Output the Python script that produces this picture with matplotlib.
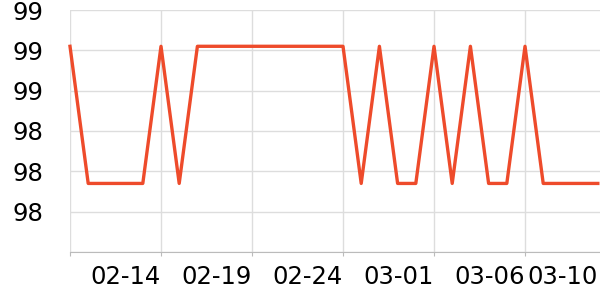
import numpy as np
import matplotlib.pyplot as plt

dates = ['02-09', '02-10', '02-11', '02-12', '02-13', '02-14', '02-15', '02-16',
         '02-17', '02-18', '02-19', '02-20', '02-21', '02-22', '02-23', '02-24',
         '02-25', '02-26', '02-27', '02-28', '03-01', '03-02', '03-03', '03-04',
         '03-05', '03-06', '03-07', '03-08', '03-09', '03-10']
values = [99.11, 98.77, 98.77, 98.77, 98.77, 99.11, 98.77, 99.11,
          99.11, 99.11, 99.11, 99.11, 99.11, 99.11, 99.11, 99.11,
          98.77, 99.11, 98.77, 98.77, 99.11, 98.77, 99.11, 98.77,
          98.77, 99.11, 98.77, 98.77, 98.77, 98.77]
y_ticks = [98.6, 98.7, 98.8, 98.9, 99.0, 99.1, 99.2]
y_labels = ['', '98', '98', '98', '99', '99', '99']

font = 17.5
plt.rcParams.update({'font.size': font, 'font.family': 'DejaVu Sans'})

fig = plt.figure(figsize=(6, 3), dpi=100)
ax = fig.add_axes([70/600, 48/300, 530/600, 242/300])

x = np.arange(len(dates))
ax.plot(x, values, color='#ee4b2b', lw=2.4, clip_on=False, zorder=3)

ax.set_xlim(0, 29.12)
ax.set_ylim(98.6, 99.2)

major = list(range(0, len(dates) - 1, 5))
ax.set_xticks(major, [''] + [dates[i] for i in major[1:]])
ax.set_xticks([len(dates) - 1], [dates[-1]], minor=True)
for t in ax.get_xticklabels() + ax.get_xticklabels(minor=True):
    t.set_horizontalalignment('right')
ax.set_yticks(y_ticks, y_labels)

ax.grid(True, color='#dddddd', lw=1)
ax.set_axisbelow(True)
for s in ['top', 'right', 'left']:
    ax.spines[s].set_visible(False)
ax.spines['bottom'].set_color('#bbbbbb')
ax.tick_params(axis='x', which='major', length=3, color='#bbbbbb', pad=6, labelsize=font)
ax.tick_params(axis='x', which='minor', length=0, pad=9, labelsize=font)
ax.tick_params(axis='y', length=0, pad=19, labelsize=font)

fig.savefig('out.png', dpi=100)
